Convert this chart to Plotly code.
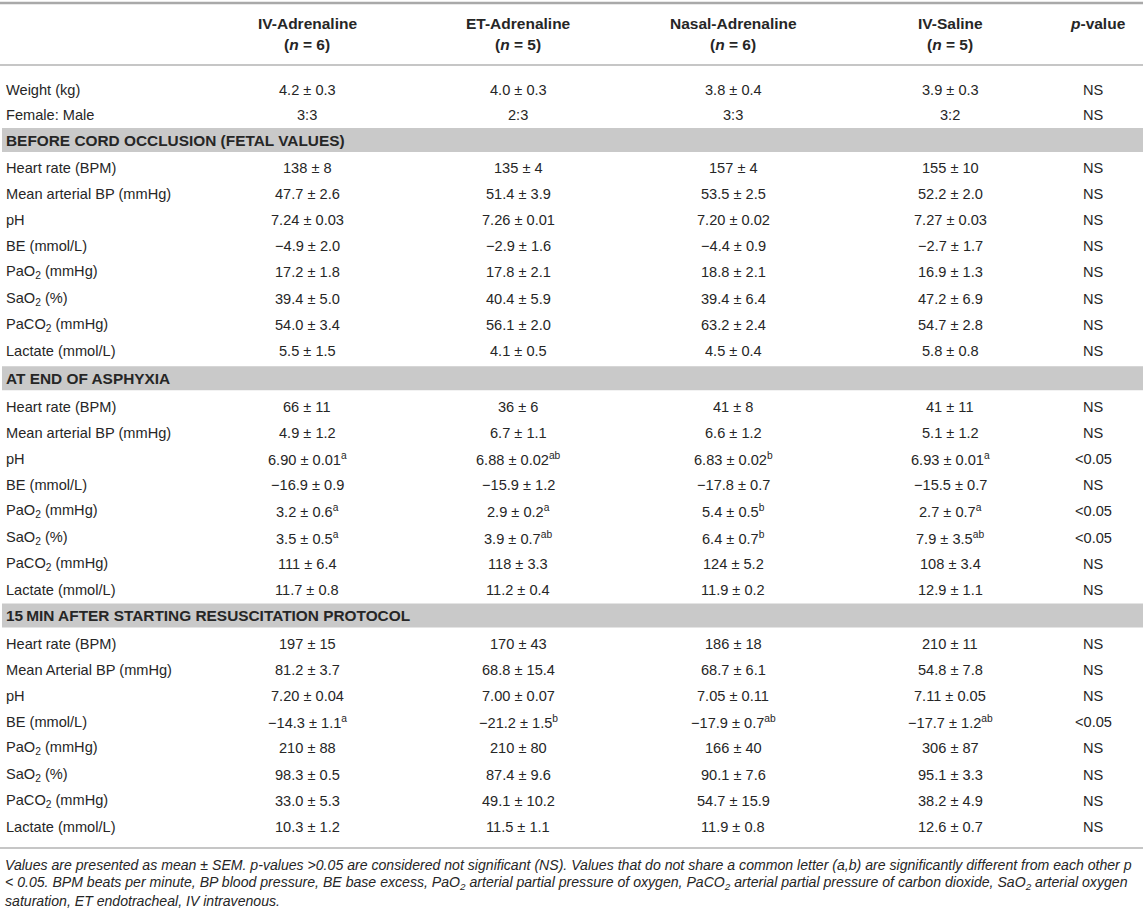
import plotly.graph_objects as go

W, H = 1143, 915

groups = ["IV-Adrenaline", "ET-Adrenaline", "Nasal-Adrenaline", "IV-Saline"]
group_n = [6, 5, 6, 5]
p_header = "<i>p</i>-value"

baseline_labels = ["Weight (kg)", "Female: Male"]
weight = ["4.2 ± 0.3", "4.0 ± 0.3", "3.8 ± 0.4", "3.9 ± 0.3"]
female_male = ["3:3", "2:3", "3:3", "3:2"]
baseline_p = ["NS", "NS"]

sections = [
    "BEFORE CORD OCCLUSION (FETAL VALUES)",
    "AT END OF ASPHYXIA",
    "15\u2009MIN AFTER STARTING RESUSCITATION PROTOCOL",
]

labels_fetal = ["Heart rate (BPM)", "Mean arterial BP (mmHg)", "pH", "BE (mmol/L)",
                "PaO<sub>2</sub> (mmHg)", "SaO<sub>2</sub> (%)", "PaCO<sub>2</sub> (mmHg)", "Lactate (mmol/L)"]
labels_asphyxia = ["Heart rate (BPM)", "Mean arterial BP (mmHg)", "pH", "BE (mmol/L)",
                   "PaO<sub>2</sub> (mmHg)", "SaO<sub>2</sub> (%)", "PaCO<sub>2</sub> (mmHg)", "Lactate (mmol/L)"]
labels_resus = ["Heart rate (BPM)", "Mean Arterial BP (mmHg)", "pH", "BE (mmol/L)",
                "PaO<sub>2</sub> (mmHg)", "SaO<sub>2</sub> (%)", "PaCO<sub>2</sub> (mmHg)", "Lactate (mmol/L)"]

fetal_iv = ["138 ± 8", "47.7 ± 2.6", "7.24 ± 0.03", "\u22124.9 ± 2.0", "17.2 ± 1.8", "39.4 ± 5.0", "54.0 ± 3.4", "5.5 ± 1.5"]
fetal_et = ["135 ± 4", "51.4 ± 3.9", "7.26 ± 0.01", "\u22122.9 ± 1.6", "17.8 ± 2.1", "40.4 ± 5.9", "56.1 ± 2.0", "4.1 ± 0.5"]
fetal_nasal = ["157 ± 4", "53.5 ± 2.5", "7.20 ± 0.02", "\u22124.4 ± 0.9", "18.8 ± 2.1", "39.4 ± 6.4", "63.2 ± 2.4", "4.5 ± 0.4"]
fetal_saline = ["155 ± 10", "52.2 ± 2.0", "7.27 ± 0.03", "\u22122.7 ± 1.7", "16.9 ± 1.3", "47.2 ± 6.9", "54.7 ± 2.8", "5.8 ± 0.8"]
fetal_p = ["NS", "NS", "NS", "NS", "NS", "NS", "NS", "NS"]

asph_iv = ["66 ± 11", "4.9 ± 1.2", "6.90 ± 0.01<sup>a</sup>", "\u221216.9 ± 0.9", "3.2 ± 0.6<sup>a</sup>",
           "3.5 ± 0.5<sup>a</sup>", "111 ± 6.4", "11.7 ± 0.8"]
asph_et = ["36 ± 6", "6.7 ± 1.1", "6.88 ± 0.02<sup>ab</sup>", "\u221215.9 ± 1.2", "2.9 ± 0.2<sup>a</sup>",
           "3.9 ± 0.7<sup>ab</sup>", "118 ± 3.3", "11.2 ± 0.4"]
asph_nasal = ["41 ± 8", "6.6 ± 1.2", "6.83 ± 0.02<sup>b</sup>", "\u221217.8 ± 0.7", "5.4 ± 0.5<sup>b</sup>",
              "6.4 ± 0.7<sup>b</sup>", "124 ± 5.2", "11.9 ± 0.2"]
asph_saline = ["41 ± 11", "5.1 ± 1.2", "6.93 ± 0.01<sup>a</sup>", "\u221215.5 ± 0.7", "2.7 ± 0.7<sup>a</sup>",
               "7.9 ± 3.5<sup>ab</sup>", "108 ± 3.4", "12.9 ± 1.1"]
asph_p = ["NS", "NS", "&lt;0.05", "NS", "&lt;0.05", "&lt;0.05", "NS", "NS"]

resus_iv = ["197 ± 15", "81.2 ± 3.7", "7.20 ± 0.04", "\u221214.3 ± 1.1<sup>a</sup>", "210 ± 88",
            "98.3 ± 0.5", "33.0 ± 5.3", "10.3 ± 1.2"]
resus_et = ["170 ± 43", "68.8 ± 15.4", "7.00 ± 0.07", "\u221221.2 ± 1.5<sup>b</sup>", "210 ± 80",
            "87.4 ± 9.6", "49.1 ± 10.2", "11.5 ± 1.1"]
resus_nasal = ["186 ± 18", "68.7 ± 6.1", "7.05 ± 0.11", "\u221217.9 ± 0.7<sup>ab</sup>", "166 ± 40",
               "90.1 ± 7.6", "54.7 ± 15.9", "11.9 ± 0.8"]
resus_saline = ["210 ± 11", "54.8 ± 7.8", "7.11 ± 0.05", "\u221217.7 ± 1.2<sup>ab</sup>", "306 ± 87",
                "95.1 ± 3.3", "38.2 ± 4.9", "12.6 ± 0.7"]
resus_p = ["NS", "NS", "NS", "&lt;0.05", "NS", "NS", "NS", "NS"]

footnote_lines = [
    "Values are presented as mean ± SEM. p-values &gt;0.05 are considered not significant (NS). "
    "Values that do not share a common letter (a,b) are significantly different from each other p",
    "&lt; 0.05. BPM beats per minute, BP blood pressure, BE base excess, PaO<sub>2</sub> arterial partial "
    "pressure of oxygen, PaCO<sub>2</sub> arterial partial pressure of carbon dioxide, SaO<sub>2</sub> arterial oxygen",
    "saturation, ET endotracheal, IV intravenous.",
]

# ---- layout constants (pixels) ----
FONT = "Liberation Sans, Arial, sans-serif"
TXT = "#262626"
BAND = "#c9c9c9"
RULE = "#b3b3b3"
col_x = [307, 518, 733, 950]
p_x = 1093
p_head_x = 1098
label_x = 4
body_size = 14.6
head_size = 15.5
pitch = 26.2

fig = go.Figure()
ann = []


def text(x, y, s, size=body_size, bold=False, italic=False, xanchor="center"):
    if bold:
        s = "<b>" + s + "</b>"
    if italic:
        s = "<i>" + s + "</i>"
    ann.append(dict(x=x, y=y, xref="x", yref="y", text=s, showarrow=False,
                    xanchor=xanchor, yanchor="middle",
                    font=dict(family=FONT, size=size, color=TXT)))


shapes = []


def hline(y, w=1.5, color=RULE):
    shapes.append(dict(type="line", xref="x", yref="y", x0=0, x1=W, y0=y, y1=y,
                       line=dict(color=color, width=w), layer="below"))


def band(yc, h=24):
    shapes.append(dict(type="rect", xref="x", yref="y", x0=2, x1=W, y0=yc - h / 2, y1=yc + h / 2,
                       fillcolor=BAND, line=dict(width=0), layer="below"))


# header
hline(3, 2.5, "#a9a9a9")
for g, n, x in zip(groups, group_n, col_x):
    text(x, 23, g, size=head_size, bold=True)
    text(x, 44, "(<i>n</i> = %d)" % n, size=head_size, bold=True)
text(p_head_x, 23, p_header, size=head_size, bold=True)
hline(65, 1.5)

# baseline rows
base_rows = [weight, female_male]
for i, lab in enumerate(baseline_labels):
    y = 90 + 25 * i
    text(label_x, y, lab, xanchor="left")
    for v, x in zip(base_rows[i], col_x):
        text(x, y, v)
    text(p_x, y, baseline_p[i])

blocks = [
    (sections[0], labels_fetal, [fetal_iv, fetal_et, fetal_nasal, fetal_saline], fetal_p),
    (sections[1], labels_asphyxia, [asph_iv, asph_et, asph_nasal, asph_saline], asph_p),
    (sections[2], labels_resus, [resus_iv, resus_et, resus_nasal, resus_saline], resus_p),
]
band_centers = [140, 378.2, 615.6]
first_offset = [27.5, 28.3, 28.0]
for (title, labels, cols, pv), bc, off in zip(blocks, band_centers, first_offset):
    band(bc)
    text(label_x, bc, title, size=15.4, bold=True, xanchor="left")
    for r, lab in enumerate(labels):
        y = bc + off + pitch * r
        text(label_x, y, lab, xanchor="left")
        for c, x in zip(cols, col_x):
            text(x, y, c[r])
        text(p_x, y, pv[r])

hline(848, 1.5)
for i, line in enumerate(footnote_lines):
    text(3, 865 + 18 * i, line, size=14.1, italic=True, xanchor="left")

fig.update_layout(
    width=W, height=H,
    margin=dict(l=0, r=0, t=0, b=0),
    paper_bgcolor="white", plot_bgcolor="white",
    xaxis=dict(range=[0, W], visible=False, fixedrange=True),
    yaxis=dict(range=[H, 0], visible=False, fixedrange=True),
    showlegend=False,
    annotations=ann,
    shapes=shapes,
)
fig.write_html(
    "out.html",
    config={"displayModeBar": False, "staticPlot": True},
    post_script="document.body.style.margin='0px';document.body.style.overflow='hidden';",
)
